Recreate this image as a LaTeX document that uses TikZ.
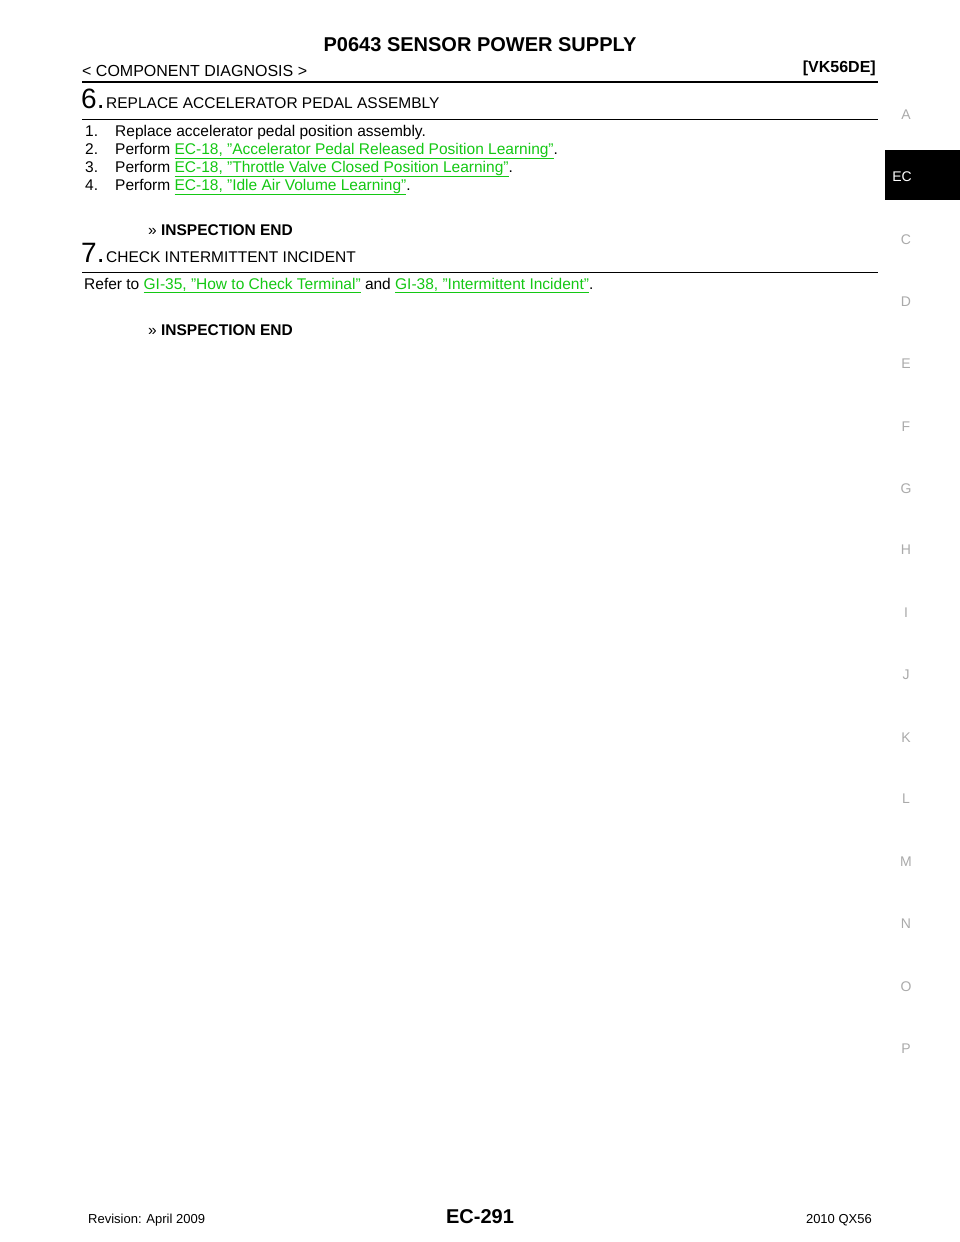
\documentclass[tikz,border=0pt]{standalone}
\usepackage{fontspec}
\setmainfont{Liberation Sans}
\definecolor{lnk}{RGB}{20,200,20}
\definecolor{tabg}{RGB}{170,170,170}
\newcommand{\lk}[1]{\textcolor{lnk}{\underline{#1}}}
\begin{document}
\begin{tikzpicture}[x=1pt,y=-1pt,
  body/.style={anchor=base west,inner sep=0pt,font=\fontsize{15.5}{18}\selectfont},
  tab/.style={anchor=base,inner sep=0pt,text=tabg,font=\fontsize{14}{16}\selectfont}]
\useasboundingbox (0,0) rectangle (960,1242);
\fill[white] (0,0) rectangle (960,1242);
\node[anchor=base,inner sep=0pt,font=\bfseries\fontsize{20}{22}\selectfont] (title) at (480,51) {P0643 SENSOR POWER SUPPLY};
\node[body,font=\fontsize{16}{18}\selectfont] (sec) at (82,76) {< COMPONENT DIAGNOSIS >};
\node[anchor=base east,inner sep=0pt,font=\bfseries\fontsize{16}{18}\selectfont] (eng) at (876,72) {[VK56DE]};
\draw[line width=2pt] (82,82) -- (878,82);
\node[body,font=\fontsize{28}{30}\selectfont] (s6) at (81,108) {6.};
\node[body] (h6) at (106,108) {REPLACE ACCELERATOR PEDAL ASSEMBLY};
\draw[line width=0.8pt] (82,119) -- (878,119);
\node[body] (n1) at (85,136) {1.};
\node[body] (t1) at (115,136) {Replace accelerator pedal position assembly.};
\node[body] (n2) at (85,154) {2.};
\node[body] (t2) at (115,154) {Perform \lk{EC-18, "Accelerator Pedal Released Position Learning"}.};
\node[body] (n3) at (85,172) {3.};
\node[body] (t3) at (115,172) {Perform \lk{EC-18, "Throttle Valve Closed Position Learning"}.};
\node[body] (n4) at (85,190) {4.};
\node[body] (t4) at (115,190) {Perform \lk{EC-18, "Idle Air Volume Learning"}.};
\node[body] (e6) at (148,235) {>> \textbf{INSPECTION END}};
\node[body,font=\fontsize{28}{30}\selectfont] (s7) at (81,262) {7.};
\node[body] (h7) at (106,262) {CHECK INTERMITTENT INCIDENT};
\draw[line width=0.8pt] (82,272) -- (878,272);
\node[body] (r7) at (84,289) {Refer to \lk{GI-35, "How to Check Terminal"} and \lk{GI-38, "Intermittent Incident"}.};
\node[body] (e7) at (148,335) {>> \textbf{INSPECTION END}};
\fill[black] (885,150) rectangle (960,200);
\node[anchor=base,inner sep=0pt,text=white,font=\fontsize{14}{16}\selectfont] (ec) at (902,181) {EC};
\foreach \l/\y in {A/114,C/239,D/301,E/363,F/426,G/488,H/549,I/612,J/674,K/737,L/798,M/861,N/923,O/986,P/1048}
  \node[tab] (tab\l) at (906,\y+5) {\l};
\node[body,font=\fontsize{13}{15}\selectfont] (rev) at (88,1223) {Revision: April 2009};
\node[anchor=base,inner sep=0pt,font=\bfseries\fontsize{20}{22}\selectfont] (pg) at (480,1223) {EC-291};
\node[anchor=base east,inner sep=0pt,font=\fontsize{13}{15}\selectfont] (yr) at (872,1223) {2010 QX56};
\end{tikzpicture}
\end{document}
